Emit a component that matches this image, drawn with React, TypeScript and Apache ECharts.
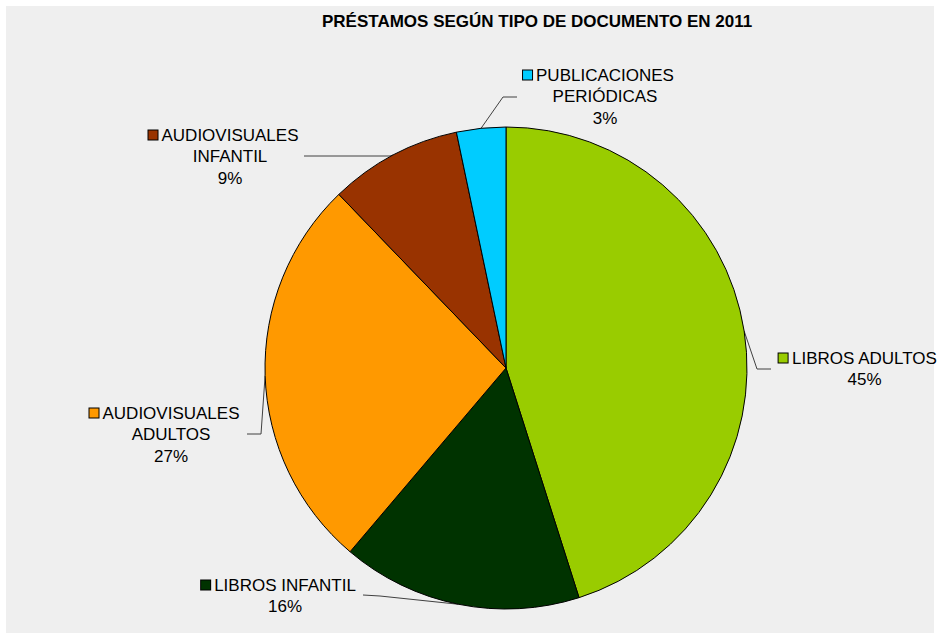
import React, { useEffect, useRef } from "react";
import * as echarts from "echarts";

const title = "PRÉSTAMOS SEGÚN TIPO DE DOCUMENTO EN 2011";
const categories = [
  "LIBROS ADULTOS",
  "LIBROS INFANTIL",
  "AUDIOVISUALES ADULTOS",
  "AUDIOVISUALES INFANTIL",
  "PUBLICACIONES PERIÓDICAS",
];
const labelTexts = [
  ["LIBROS ADULTOS"],
  ["LIBROS INFANTIL"],
  ["AUDIOVISUALES", "ADULTOS"],
  ["AUDIOVISUALES", "INFANTIL"],
  ["PUBLICACIONES", "PERIÓDICAS"],
];
// shares (%); labels show them rounded
const values = [45.1, 16.1, 26.6, 8.9, 3.3];
const colors = ["#99cc00", "#003300", "#ff9900", "#993300", "#00ccff"];

// label layout (text centre x, first line centre y, leader line bend & end points)
const LH = 21.5;
const labelLayoutCfg = [
  { cx: 864.5, y1: 358, bend: [757, 369], end: [771, 369] },
  { cx: 285, y1: 585, bend: [380, 596], end: [363, 595] },
  { cx: 171, y1: 413, bend: [261, 434], end: [247, 434] },
  { cx: 230, y1: 135, bend: [390, 156], end: [304, 156] },
  { cx: 605, y1: 75, bend: [503, 97], end: [517, 97] },
];

const FONT = "'Liberation Sans', Arial, sans-serif";
const CENTER = [506, 368];
const RADIUS = 241;

export default function App() {
  const ref = useRef<HTMLDivElement>(null);

  useEffect(() => {
    if (!ref.current) return;
    const chart = echarts.init(ref.current, undefined, { renderer: "svg" });

    const rich: any = {
      gap: { width: 4, height: 10 },
      pad: { width: 13, height: 10 },
    };
    colors.forEach((c, i) => {
      rich["sq" + i] = {
        width: 9,
        height: 9,
        backgroundColor: c,
        borderColor: "#000",
        borderWidth: 1,
        verticalAlign: "middle",
      };
    });

    const total = values.reduce((a, b) => a + b, 0);
    const midAngles: number[] = [];
    let acc = 0;
    values.forEach((v) => {
      midAngles.push(((acc + v / 2) / total) * Math.PI * 2);
      acc += v;
    });

    chart.setOption({
      animation: false,
      backgroundColor: "#ffffff",
      title: {
        text: title,
        left: 317,
        top: 8,
        textStyle: {
          fontFamily: FONT,
          fontSize: 17,
          fontWeight: "bold",
          color: "#000",
        },
      },
      graphic: [
        {
          type: "rect",
          z: -10,
          silent: true,
          shape: { x: 6, y: 6, width: 928, height: 627 },
          style: { fill: "#efefef" },
        },
      ],
      series: [
        {
          type: "pie",
          center: CENTER,
          radius: RADIUS,
          startAngle: 90,
          clockwise: true,
          avoidLabelOverlap: false,
          data: categories.map((name, i) => ({
            name,
            value: values[i],
            itemStyle: { color: colors[i] },
          })),
          itemStyle: { borderColor: "#000", borderWidth: 1 },
          label: {
            show: true,
            position: "outside",
            fontFamily: FONT,
            fontSize: 17,
            color: "#000",
            lineHeight: LH,
            align: "center",
            formatter: (p: any) => {
              const i = p.dataIndex;
              const lines = labelTexts[i];
              const out = [`{sq${i}|}{gap|}${lines[0]}{pad|}`];
              for (let k = 1; k < lines.length; k++) out.push(lines[k]);
              out.push(`${Math.round(p.percent)}%`);
              return out.join("\n");
            },
            rich,
          },
          labelLine: {
            show: true,
            length: 10,
            length2: 10,
            lineStyle: { color: "#404040", width: 1 },
          },
          labelLayout: (params: any) => {
            const i = params.dataIndex;
            const cfg = labelLayoutCfg[i];
            const a = midAngles[i];
            const edge = [
              CENTER[0] + RADIUS * Math.sin(a),
              CENTER[1] - RADIUS * Math.cos(a),
            ];
            return {
              x: cfg.cx,
              y: cfg.y1 - LH / 2,
              align: "center",
              verticalAlign: "top",
              labelLinePoints: [edge, cfg.bend, cfg.end],
            };
          },
          emphasis: { disabled: true },
        },
      ],
    });

    return () => chart.dispose();
  }, []);

  return (
    <div
      ref={ref}
      style={{ position: "fixed", left: 0, top: 0, width: 940, height: 639 }}
    />
  );
}
